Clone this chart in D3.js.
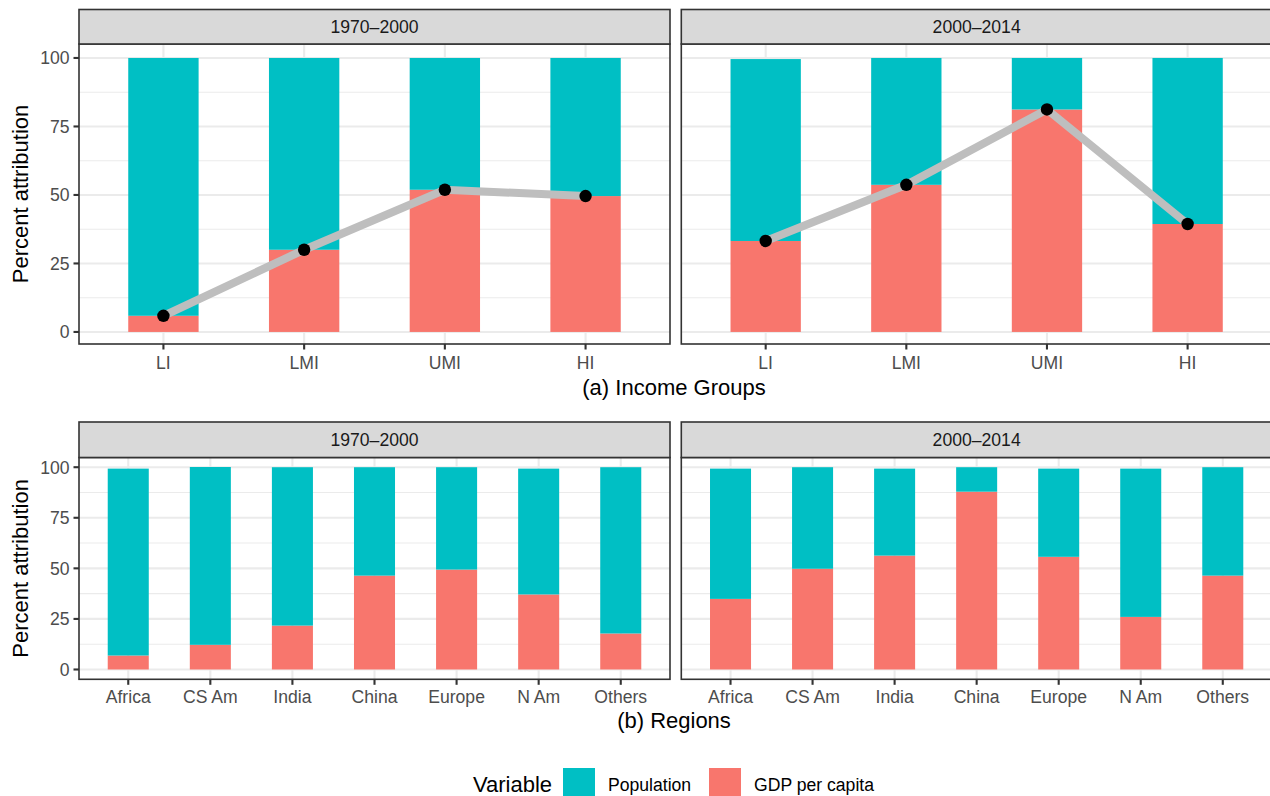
<!DOCTYPE html>
<html>
<head>
<meta charset="utf-8">
<script src="https://cdn.jsdelivr.net/npm/d3@7"></script>
<style>
  html, body { margin: 0; padding: 0; background: #ffffff; }
  svg { display: block; font-family: "Liberation Sans", Arial, Helvetica, sans-serif; }
</style>
</head>
<body>
<svg id="chart" width="1270" height="796"></svg>
<script>
// ---- data -------------------------------------------------------------
const periods = ["1970\u20132000", "2000\u20132014"];
const incomeGroups = ["LI", "LMI", "UMI", "HI"];
const regions = ["Africa", "CS Am", "India", "China", "Europe", "N Am", "Others"];

// percent attribution of emissions change, by income group
const incomeGdp1970 = [5.9, 30.0, 51.9, 49.6];
const incomePop1970 = [94.1, 70.0, 48.1, 50.4];
const incomeGdp2000 = [33.2, 53.7, 81.2, 39.4];
const incomePop2000 = [66.4, 46.3, 18.8, 60.6];

// percent attribution by region
const regionGdp1970 = [6.9, 12.2, 21.7, 46.4, 49.4, 37.1, 17.8];
const regionPop1970 = [92.4, 87.9, 78.3, 53.6, 50.6, 62.2, 82.2];
const regionGdp2000 = [34.9, 49.8, 56.3, 87.9, 55.7, 26.0, 46.4];
const regionPop2000 = [64.4, 50.2, 43.0, 12.1, 43.6, 73.3, 53.6];

const yTicks = [0, 25, 50, 75, 100];
const yMinorTicks = [12.5, 37.5, 62.5, 87.5];
const variables = ["Population", "GDP per capita"];
const colors = { "Population": "#00BFC4", "GDP per capita": "#F8766D" };

// ---- layout -----------------------------------------------------------
const svg = d3.select("#chart");
const panelX = [[79, 670], [681.3, 1272]];
const rows = [
  { cats: incomeGroups, strip: [9.5, 44], panel: [44, 344], yDomain: [-4.4, 105.1],
    gdp: [incomeGdp1970, incomeGdp2000], pop: [incomePop1970, incomePop2000],
    line: true, title: "(a) Income Groups", titleY: 395, tickLabelY: 369 },
  { cats: regions, strip: [422, 457.5], panel: [457.5, 679.3], yDomain: [-4.85, 104.8],
    gdp: [regionGdp1970, regionGdp2000], pop: [regionPop1970, regionPop2000],
    line: false, title: "(b) Regions", titleY: 728, tickLabelY: 703 }
];

const tickFont = 17.6, titleFont = 22;
const borderCol = "#333333", gridCol = "#EBEBEB";

rows.forEach(row => {
  const y = d3.scaleLinear().domain(row.yDomain).range([row.panel[1], row.panel[0]]);

  periods.forEach((period, p) => {
    const [x0, x1] = panelX[p];
    const x = d3.scalePoint().domain(row.cats).range([x0, x1]).padding(0.6);
    const barW = x.step() * 0.5;
    const g = svg.append("g");

    // grid
    g.selectAll(".minor").data(yMinorTicks).join("line")
      .attr("x1", x0).attr("x2", x1).attr("y1", d => y(d)).attr("y2", d => y(d))
      .attr("stroke", gridCol).attr("stroke-width", 1.07);
    g.selectAll(".major").data(yTicks).join("line")
      .attr("x1", x0).attr("x2", x1).attr("y1", d => y(d)).attr("y2", d => y(d))
      .attr("stroke", gridCol).attr("stroke-width", 2.1);
    g.selectAll(".vmajor").data(row.cats).join("line")
      .attr("x1", d => x(d)).attr("x2", d => x(d))
      .attr("y1", row.panel[0]).attr("y2", row.panel[1])
      .attr("stroke", gridCol).attr("stroke-width", 2.1);

    // stacked bars: GDP per capita at the bottom, Population on top
    const table = row.cats.map((c, i) => ({
      cat: c, "GDP per capita": row.gdp[p][i], "Population": row.pop[p][i]
    }));
    const stacked = d3.stack().keys(["GDP per capita", "Population"])(table);
    stacked.forEach(layer => {
      g.append("g").selectAll("rect").data(layer).join("rect")
        .attr("x", d => x(d.data.cat) - barW / 2)
        .attr("width", barW)
        .attr("y", d => y(d[1]))
        .attr("height", d => y(d[0]) - y(d[1]))
        .attr("fill", colors[layer.key]);
    });

    // GDP share trend line with points
    if (row.line) {
      const pts = row.cats.map((c, i) => [x(c), y(row.gdp[p][i])]);
      g.append("path").attr("d", d3.line()(pts))
        .attr("fill", "none").attr("stroke", "#BEBEBE").attr("stroke-width", 8);
      g.selectAll(".pt").data(pts).join("circle")
        .attr("cx", d => d[0]).attr("cy", d => d[1]).attr("r", 6.2).attr("fill", "#000");
    }

    // panel border
    g.append("rect").attr("x", x0).attr("y", row.panel[0])
      .attr("width", x1 - x0).attr("height", row.panel[1] - row.panel[0])
      .attr("fill", "none").attr("stroke", borderCol).attr("stroke-width", 1.6);

    // strip
    g.append("rect").attr("x", x0).attr("y", row.strip[0])
      .attr("width", x1 - x0).attr("height", row.strip[1] - row.strip[0])
      .attr("fill", "#D9D9D9").attr("stroke", borderCol).attr("stroke-width", 1.6);
    g.append("text").attr("x", (x0 + x1) / 2)
      .attr("y", (row.strip[0] + row.strip[1]) / 2 + 6.3)
      .attr("text-anchor", "middle").attr("font-size", tickFont).attr("fill", "#1A1A1A")
      .text(period);

    // x axis
    const xa = g.append("g");
    xa.selectAll("line").data(row.cats).join("line")
      .attr("x1", d => x(d)).attr("x2", d => x(d))
      .attr("y1", row.panel[1]).attr("y2", row.panel[1] + 5.5)
      .attr("stroke", borderCol).attr("stroke-width", 2.1);
    xa.selectAll("text").data(row.cats).join("text")
      .attr("x", d => x(d)).attr("y", row.tickLabelY)
      .attr("text-anchor", "middle").attr("font-size", tickFont).attr("fill", "#4D4D4D")
      .text(d => d);

    // y axis on the left panel only
    if (p === 0) {
      const ya = g.append("g");
      ya.selectAll("line").data(yTicks).join("line")
        .attr("x1", x0 - 5.5).attr("x2", x0)
        .attr("y1", d => y(d)).attr("y2", d => y(d))
        .attr("stroke", borderCol).attr("stroke-width", 2.1);
      ya.selectAll("text").data(yTicks).join("text")
        .attr("x", x0 - 9.5).attr("y", d => y(d) + 6.3)
        .attr("text-anchor", "end").attr("font-size", tickFont).attr("fill", "#4D4D4D")
        .text(d => d);
    }
  });

  // axis titles
  const cy = (row.panel[0] + row.panel[1]) / 2;
  svg.append("text").attr("transform", `translate(28,${cy}) rotate(-90)`)
    .attr("text-anchor", "middle").attr("font-size", titleFont).attr("fill", "#000")
    .text("Percent attribution");
  svg.append("text").attr("x", (panelX[0][0] + 1269) / 2).attr("y", row.titleY)
    .attr("text-anchor", "middle").attr("font-size", titleFont).attr("fill", "#000")
    .text(row.title);
});

// ---- legend -----------------------------------------------------------
const legend = svg.append("g");
legend.append("text").attr("x", 473).attr("y", 792)
  .attr("font-size", titleFont).attr("fill", "#000").text("Variable");
const legendX = [{ key: 563, text: 608 }, { key: 709, text: 754 }];
variables.forEach((v, i) => {
  legend.append("rect").attr("x", legendX[i].key).attr("y", 768)
    .attr("width", 32).attr("height", 32).attr("fill", colors[v]);
  legend.append("text").attr("x", legendX[i].text).attr("y", 790.5)
    .attr("font-size", tickFont).attr("fill", "#000").text(v);
});
</script>
</body>
</html>
